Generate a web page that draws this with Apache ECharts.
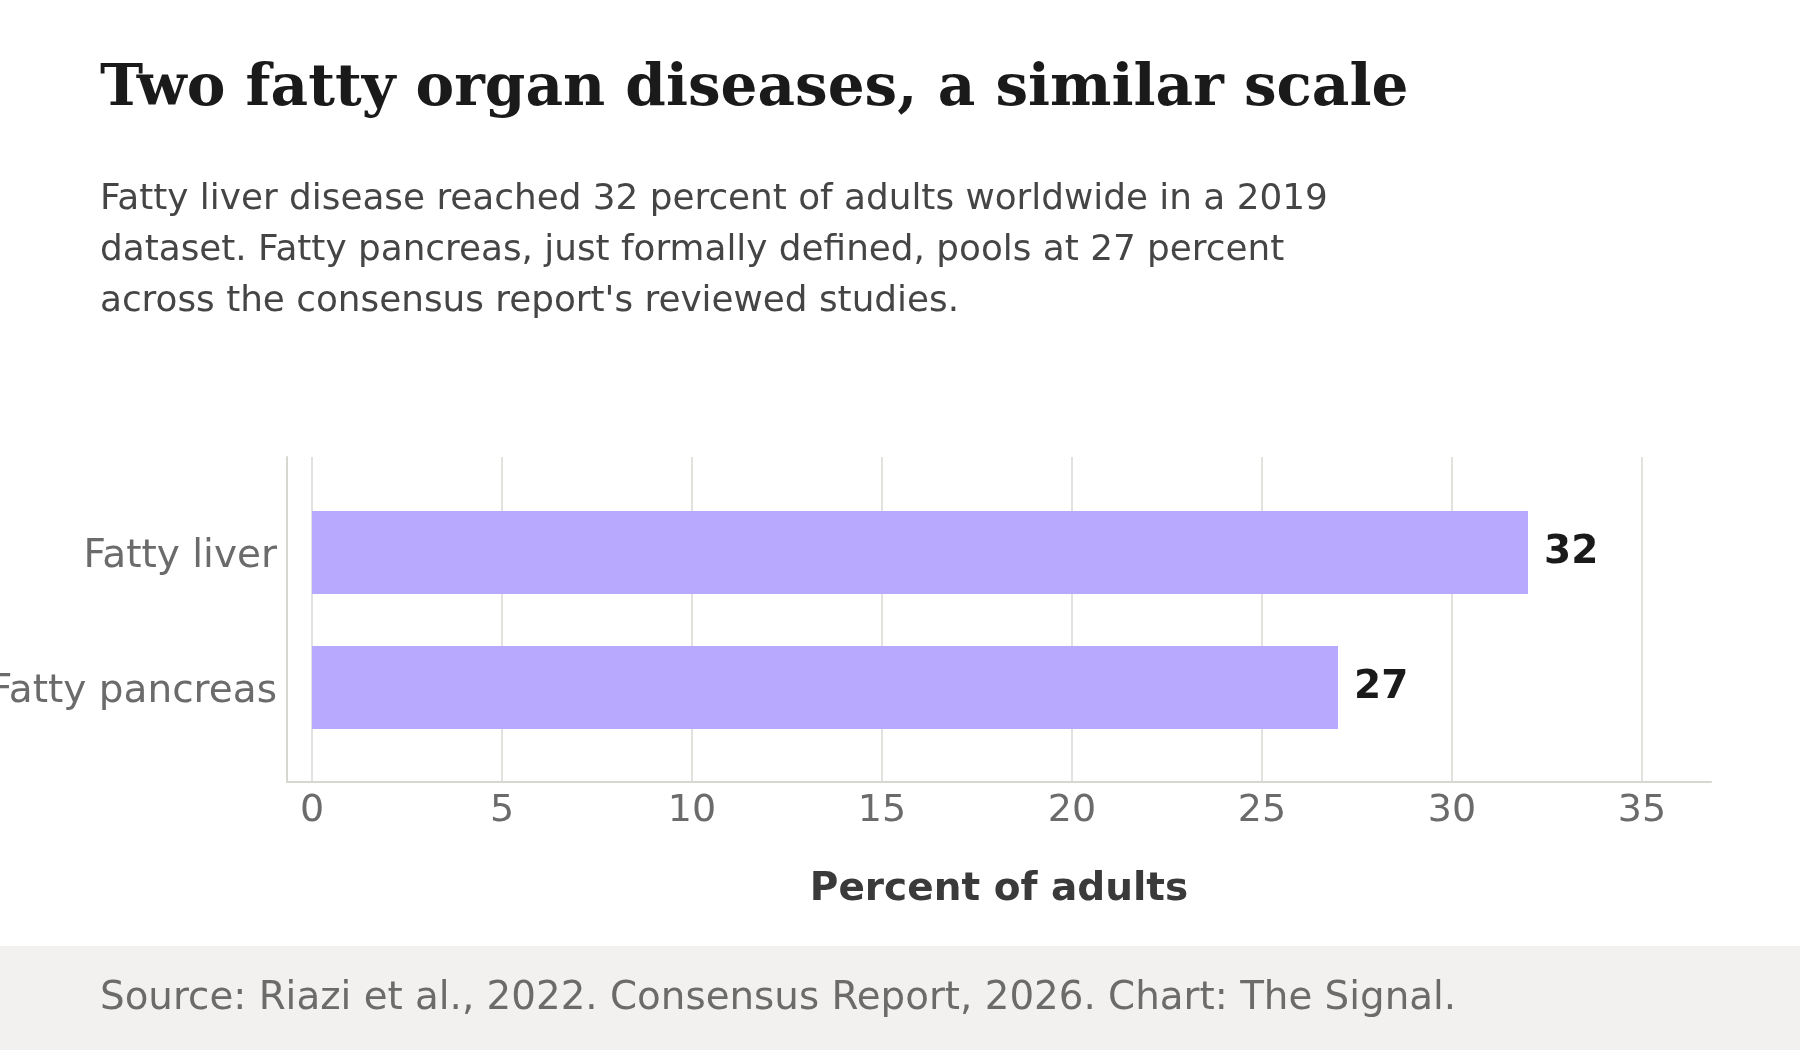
<!DOCTYPE html>
<html>
<head>
<meta charset="utf-8">
<script src="https://cdn.jsdelivr.net/npm/echarts@6/dist/echarts.min.js"></script>
<style>
  html, body { margin: 0; padding: 0; background: #fff; }
  #chart { width: 1800px; height: 1050px; }
</style>
</head>
<body>
<div id="chart"></div>
<script>
  // data
  var categories = ['Fatty liver', 'Fatty pancreas'];
  var percents = [32, 27];
  var xTicks = [0, 5, 10, 15, 20, 25, 30, 35];

  var titleText = 'Two fatty organ diseases, a similar scale';
  var subText = 'Fatty liver disease reached 32 percent of adults worldwide in a 2019\n' +
    'dataset. Fatty pancreas, just formally defined, pools at 27 percent\n' +
    "across the consensus report's reviewed studies.";
  var sourceText = 'Source: Riazi et al., 2022. Consensus Report, 2026. Chart: The Signal.';

  var font = '"DejaVu Sans", sans-serif';
  var xMin = -0.658, xMax = 36.816;

  var chart = echarts.init(document.getElementById('chart'));
  chart.setOption({
    backgroundColor: '#ffffff',
    animation: false,
    // footer band
    graphic: [
      {
        type: 'rect',
        left: 0, top: 946,
        shape: { width: 1800, height: 104 },
        style: { fill: '#f2f1ef' },
        z: -10
      }
    ],
    title: [
      {
        text: titleText,
        left: 95, top: 56,
        textStyle: { fontFamily: '"DejaVu Serif", serif', fontWeight: 'bold', fontSize: 58, lineHeight: 58, color: '#1a1a1a' }
      },
      {
        text: subText,
        left: 95, top: 169,
        textStyle: { fontFamily: font, fontWeight: 'normal', fontSize: 35.8, lineHeight: 51, color: '#454545' }
      },
      {
        text: sourceText,
        left: 95, top: 974,
        textStyle: { fontFamily: font, fontWeight: 'normal', fontSize: 38.8, lineHeight: 39, color: '#6b6b6b' }
      }
    ],
    grid: [
      // frame: gridlines and axis lines
      { left: 287, right: 89, top: 457, height: 325, outerBoundsMode: 'none' },
      // bars, starting at zero
      { left: 312, right: 89, top: 485, height: 270, outerBoundsMode: 'none' }
    ],
    xAxis: [
      {
        gridIndex: 0,
        type: 'value',
        min: xMin, max: xMax,
        axisLine: { show: true, lineStyle: { color: '#d8d6d1', width: 2 } },
        axisTick: { show: false, customValues: xTicks },
        axisLabel: { customValues: xTicks, fontFamily: font, fontSize: 38, color: '#6b6b6b', margin: 10 },
        splitLine: { show: true, lineStyle: { color: '#e3e1dd', width: 2 } },
        name: 'Percent of adults',
        nameLocation: 'middle',
        nameGap: 88,
        nameTextStyle: { fontFamily: font, fontWeight: 'bold', fontSize: 39, color: '#3a3a3a' }
      },
      {
        gridIndex: 1,
        type: 'value',
        min: 0, max: xMax,
        show: false
      }
    ],
    yAxis: [
      {
        gridIndex: 0,
        type: 'value',
        min: 0, max: 1,
        axisLine: { show: true, onZero: false, lineStyle: { color: '#d8d6d1', width: 2 } },
        axisTick: { show: false },
        axisLabel: { show: false },
        splitLine: { show: false }
      },
      {
        gridIndex: 1,
        type: 'category',
        inverse: true,
        data: categories,
        axisLine: { show: false },
        axisTick: { show: false },
        // small line box, top aligned: sits the label a few px below the bar centre
        axisLabel: { fontFamily: font, fontSize: 39, color: '#6b6b6b', margin: 35, verticalAlign: 'top', lineHeight: 9 }
      }
    ],
    series: [
      {
        type: 'bar',
        xAxisIndex: 1,
        yAxisIndex: 1,
        data: percents,
        barWidth: 83,
        itemStyle: { color: '#b8a8fe' },
        label: {
          show: true,
          position: 'right',
          distance: 16,
          fontFamily: font,
          fontWeight: 'bold',
          fontSize: 39,
          color: '#1a1a1a'
        }
      }
    ]
  });
</script>
</body>
</html>
